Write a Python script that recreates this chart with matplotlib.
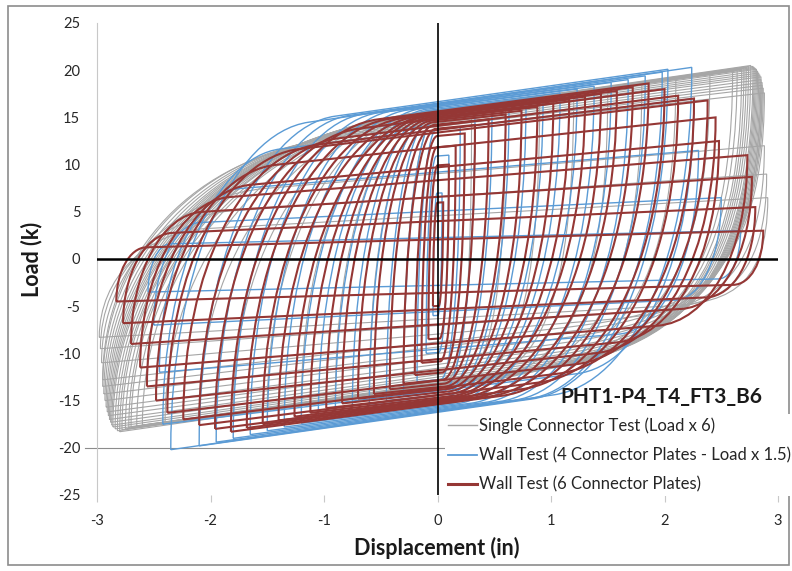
import matplotlib
matplotlib.use('Agg')
import matplotlib.pyplot as plt
from matplotlib.path import Path
from matplotlib.patches import PathPatch, Rectangle
from matplotlib.lines import Line2D

plt.rcParams['font.family'] = ['Lato', 'DejaVu Sans']

# cycle peaks: negative peak (xn, yn) and positive peak (xp, yp)
gray_xn = [-0.3, -0.6, -0.9, -1.2, -1.5, -1.8, -2.1, -2.4,
           -2.6, -2.65, -2.7, -2.72, -2.75, -2.78, -2.8, -2.82, -2.84, -2.86,
           -2.87, -2.88, -2.89, -2.9, -2.91, -2.92, -2.93, -2.94, -2.95, -2.95,
           -2.96, -2.97, -2.98]
gray_yn = [-13.5, -14.5, -15, -15.5, -16, -16.5, -17, -17.3,
           -17.6, -17.7, -17.8, -17.9, -18, -18.1, -18.3, -18.2, -18, -17.8,
           -17.6, -17.3, -17, -16.6, -16.2, -15.7, -15, -14.3, -13.5, -12.8,
           -11, -9.5, -8.3]
gray_xp = [0.3, 0.6, 0.9, 1.2, 1.5, 1.8, 2.1, 2.4,
           2.6, 2.64, 2.68, 2.7, 2.72, 2.74, 2.76, 2.78, 2.79, 2.8,
           2.81, 2.82, 2.83, 2.84, 2.85, 2.85, 2.86, 2.86, 2.87, 2.88,
           2.88, 2.9, 2.91]
gray_yp = [15, 16, 16.8, 17.5, 18, 18.6, 19.2, 19.6,
           19.9, 20, 20.1, 20.2, 20.3, 20.4, 20.5, 20.4, 20.3, 20.2,
           20.1, 19.9, 19.7, 19.5, 19.3, 19.0, 18.7, 18.4, 18.1, 17.6,
           12, 9, 6.5]

blue_xn = [-0.04, -0.1, -0.18, -0.3, -0.45, -0.6, -0.75, -0.9, -1.05, -1.2, -1.35,
           -1.5, -1.65, -1.8, -1.95, -2.1, -2.35, -2.42, -2.45, -2.5, -2.55]
blue_yn = [-6, -10, -13, -14.5, -15, -15.5, -16, -16.5, -17, -17.4, -17.8,
           -18.2, -18.6, -19, -19.4, -19.8, -20.2, -17.5, -12, -7, -3.5]
blue_xp = [0.04, 0.1, 0.2, 0.33, 0.48, 0.63, 0.78, 0.93, 1.08, 1.23, 1.38,
           1.53, 1.68, 1.83, 1.98, 2.03, 2.24, 2.26, 2.3, 2.5, 2.67]
blue_yp = [7, 11, 14, 15.5, 16, 16.4, 16.8, 17.2, 17.6, 18, 18.3,
           18.7, 19, 19.4, 19.8, 20.1, 20.3, 17, 11.5, 6.5, 3]

red_xn = [-0.04, -0.08, -0.14, -0.2, -0.3, -0.42, -0.56, -0.7, -0.84, -0.98, -1.12, -1.26, -1.4,
          -1.54, -1.68, -1.82, -1.96, -2.1, -2.24, -2.38, -2.48, -2.56, -2.62, -2.7, -2.77, -2.83]
red_yn = [-5, -8.5, -11, -12.3, -13.2, -13.8, -14.3, -14.8, -15.3, -15.8, -16.3, -16.7, -17.1,
          -17.5, -17.9, -18.3, -18, -17.6, -17, -16.3, -15, -13.5, -11.5, -9, -6.8, -4.5]
red_xp = [0.05, 0.1, 0.16, 0.24, 0.33, 0.45, 0.6, 0.74, 0.88, 1.02, 1.16, 1.3, 1.44,
          1.58, 1.72, 1.86, 2.0, 2.12, 2.26, 2.38, 2.45, 2.48, 2.73, 2.77, 2.8, 2.87]
red_yp = [6, 10, 12, 13.3, 14.2, 14.8, 15.3, 15.7, 16.1, 16.5, 16.9, 17.2, 17.5,
          17.8, 18.2, 18.6, 18, 17.3, 17, 16.8, 15, 12.5, 11, 8.7, 5.5, 3]

x_ticks = [-3, -2, -1, 0, 1, 2, 3]
y_ticks = [-25, -20, -15, -10, -5, 0, 5, 10, 15, 20, 25]


def loop(xn, yn, xp, yp, width, slope, href, kl, kr):
    # one hysteresis cycle: curved unloading sides, straight loading branches
    f = (yp - yn) / href
    w = min(width * f, 0.45 * (xp - xn))
    s = slope * f
    ka, kb = xn + w, xp - w
    ya = yp - s * (xp - ka)
    yb = yn + s * (kb - xn)
    k = 0.55
    verts = [(xn, yn),
             (xn, yn + kl * (ya - yn)), (ka - k * w, ya - s * k * w), (ka, ya),
             (xp, yp),
             (xp, yp - kr * (yp - yb)), (kb + k * w, yb + s * k * w), (kb, yb),
             (xn, yn)]
    codes = [Path.MOVETO, Path.CURVE4, Path.CURVE4, Path.CURVE4, Path.LINETO,
             Path.CURVE4, Path.CURVE4, Path.CURVE4, Path.LINETO]
    return Path(verts, codes)


fig = plt.figure(figsize=(7.92, 5.71), dpi=100)
ax = fig.add_axes([97 / 792, 1 - 495 / 571, 681 / 792, 472 / 571])

series = [
    (gray_xn, gray_yn, gray_xp, gray_yp, '#a6a6a6', 0.8, 2.4, 1.7, 38, 0.55, 0.9),
    (blue_xn, blue_yn, blue_xp, blue_yp, '#5b9bd5', 1.0, 1.2, 1.7, 40, 0.55, 0.6),
    (red_xn, red_yn, red_xp, red_yp, '#953735', 1.5, 1.3, 1.6, 37, 0.55, 0.6),
]
for xn, yn, xp, yp, col, lw, width, slope, href, kl, kr in series:
    for i in range(len(xn)):
        p = loop(xn[i], yn[i], xp[i], yp[i], width, slope, href, kl, kr)
        ax.add_patch(PathPatch(p, fill=False, edgecolor=col, lw=lw))

ax.axhline(0, color='black', lw=1.8, zorder=5)
ax.axvline(0, color='black', lw=1.2, zorder=5)
ax.axhline(-20, xmin=-0.017, xmax=1, color='#8c8c8c', lw=0.8, clip_on=False, zorder=0)

ax.set_xlim(-3, 3)
ax.set_ylim(-25, 25)
ax.set_xticks(x_ticks)
ax.set_yticks(y_ticks)
ax.set_xticklabels([str(v) for v in x_ticks])
ax.set_yticklabels([str(v) for v in y_ticks])
for s in ['top', 'right', 'bottom']:
    ax.spines[s].set_visible(False)
ax.spines['left'].set_color('#c8c8c8')
ax.tick_params(axis='y', length=0, pad=12, labelsize=10.5, labelcolor='#262626')
ax.tick_params(axis='x', length=5, width=0.8, color='#c8c8c8', pad=9, labelsize=10.5,
               labelcolor='#262626')

fig.text(32 / 792, 1 - 259 / 571, 'Load (k)', rotation=90, ha='center', va='center',
         fontsize=15.5, fontweight='bold', color='#1a1a1a')
fig.text(437 / 792, 1 - 548 / 571, 'Displacement (in)', ha='center', va='center',
         fontsize=15.5, fontweight='bold', color='#1a1a1a')
fig.text(661 / 792, 1 - 397 / 571, 'PHT1-P4_T4_FT3_B6', ha='center', va='center',
         fontsize=15, fontweight='bold', color='#1a1a1a')

handles = [Line2D([], [], color='#a6a6a6', lw=1.0),
           Line2D([], [], color='#5b9bd5', lw=1.3),
           Line2D([], [], color='#953735', lw=2.2)]
labels = ['Single Connector Test (Load x 6)',
          'Wall Test (4 Connector Plates - Load x 1.5)',
          'Wall Test (6 Connector Plates)']
leg = fig.legend(handles, labels, loc='upper left', bbox_to_anchor=(445 / 792, 1 - 414 / 571),
                 fontsize=12, frameon=True, facecolor='white', edgecolor='none',
                 framealpha=1, handlelength=1.7, handletextpad=0.15, labelspacing=0.8,
                 borderpad=0.2, borderaxespad=0)
for t in leg.get_texts():
    t.set_color('#262626')

fig.add_artist(Rectangle((8 / 792, 6 / 571), 781 / 792, 559 / 571, transform=fig.transFigure,
                         fill=False, edgecolor='#8c8c8c', lw=1.2))

fig.savefig('out.png', dpi=100)
